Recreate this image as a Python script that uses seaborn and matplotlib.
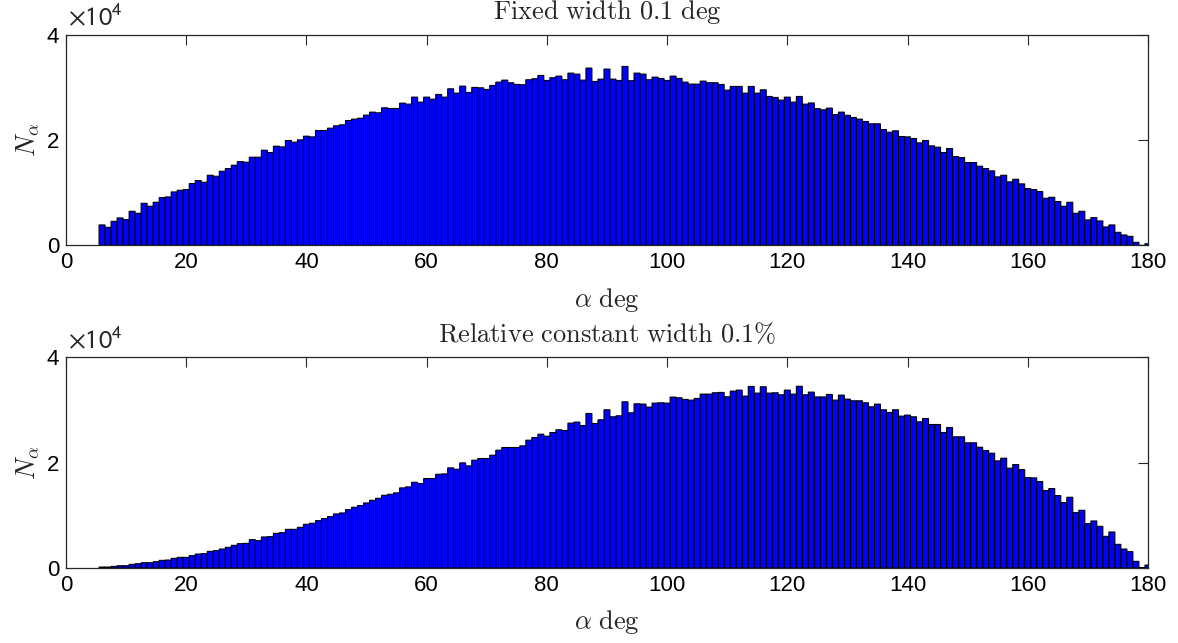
import numpy as np
import pandas as pd
import matplotlib
matplotlib.use('Agg')
import matplotlib.pyplot as plt
import seaborn as sns

# bin centres (deg) and counts
alpha_deg = list(range(6, 181))

counts_fixed = [
    3870, 3420, 4560, 5200, 4880, 6470, 6090, 7990, 7420, 8180,
    9070, 9190, 10140, 10460, 10590, 11730, 12300, 11980, 13310, 13120,
    14070, 14580, 15220, 15910, 15790, 16740, 16740, 18070, 17630, 18830,
    18700, 19910, 19590, 20030, 20730, 20600, 21810, 21810, 22250, 22700,
    22890, 23710, 23970, 24150, 24730, 25300, 25170, 26120, 25990, 25990,
    27010, 26820, 28150, 27200, 28150, 27770, 28660, 28150, 29730, 28910,
    30240, 29040, 29990, 29920, 29610, 30370, 31000, 31380, 30880, 30560,
    30500, 31450, 31640, 32270, 31320, 31830, 32140, 31450, 32710, 32520,
    31380, 33670, 31130, 31570, 33480, 31570, 31320, 33980, 31260, 32710,
    32520, 31450, 31950, 31700, 31320, 32140, 31700, 31000, 30620, 30620,
    31190, 30880, 30880, 30560, 29480, 30180, 30180, 28910, 30180, 28910,
    29540, 28280, 28090, 27580, 28150, 27200, 28280, 26820, 27040, 25960,
    25740, 26060, 24820, 25300, 24700, 24280, 23970, 23520, 23080, 23080,
    22000, 21490, 21750, 20670, 20600, 20290, 19460, 19910, 18890, 18640,
    17630, 18390, 16860, 16670, 15720, 15720, 15030, 14580, 14140, 13000,
    13310, 12050, 12550, 11670, 10780, 10590, 10210, 8940, 9130, 8310,
    7420, 8180, 6090, 6470, 4820, 5260, 4630, 3490, 3870, 2470,
    1970, 1710, 570, 0, 300,
]

counts_relative = [
    190, 190, 320, 440, 440, 700, 820, 1010, 1010, 1200,
    1460, 1520, 1840, 2030, 2030, 2350, 2660, 2730, 3170, 3300,
    3610, 3930, 4310, 4630, 4690, 5390, 5200, 5900, 5960, 6590,
    6720, 7350, 7350, 7730, 8310, 8500, 9000, 9380, 9760, 10270,
    10460, 11090, 11540, 11860, 12360, 12870, 13250, 13820, 14010, 14270,
    15220, 15410, 16290, 16040, 16990, 16990, 17810, 17880, 19020, 18770,
    19970, 19400, 20480, 20800, 20800, 21430, 22380, 22890, 22890, 22890,
    23200, 24280, 24790, 25420, 25040, 25740, 26250, 26120, 27520, 27710,
    27070, 29350, 27450, 28150, 30050, 28720, 28910, 31570, 29480, 31190,
    31130, 30560, 31320, 31380, 31320, 32460, 32330, 32020, 31890, 32210,
    33030, 33030, 33280, 33350, 32520, 33600, 33790, 32650, 34490, 33220,
    34420, 33220, 33280, 32900, 33790, 33030, 34520, 32900, 33410, 32490,
    32490, 32970, 31890, 32840, 32080, 31760, 31760, 31380, 30620, 31130,
    30050, 29540, 30050, 28850, 29040, 28720, 27770, 28400, 27260, 27260,
    25740, 26690, 24920, 24920, 23780, 23780, 22950, 22320, 21810, 20350,
    20860, 18960, 19650, 18700, 17180, 17120, 16420, 14710, 15090, 13760,
    12430, 13440, 10520, 10970, 8430, 8940, 7920, 6020, 6850, 4500,
    3610, 3110, 1270, 100, 570,
]

titles = [r'$\mathrm{Fixed\ width\ 0.1\ deg}$',
          r'$\mathrm{Relative\ constant\ width\ 0.1\%}$']
x_ticks = list(range(0, 181, 20))
y_ticks = [0, 20000, 40000]
y_tick_labels = ['0', '2', '4']

sns.set_style('white')
plt.rcParams['font.family'] = ['Liberation Sans', 'DejaVu Sans']
plt.rcParams['mathtext.fontset'] = 'cm'

fig = plt.figure(figsize=(11.78, 6.43), dpi=100)
ax_top = fig.add_axes([0.056, 0.6185, 0.9185, 0.3275])
ax_bot = fig.add_axes([0.056, 0.1166, 0.9185, 0.3276])

edge_col = '#262626'
for ax, counts, title in zip([ax_top, ax_bot], [counts_fixed, counts_relative], titles):
    df = pd.DataFrame({'alpha': alpha_deg, 'n': counts})
    sns.histplot(data=df, x='alpha', weights='n', binwidth=1, binrange=(5.5, 180.5),
                 color='#0000ff', alpha=1, edgecolor='black', linewidth=0.75, ax=ax)
    # keep the thin bar outlines evenly visible instead of pixel-snapped
    for p in ax.patches:
        p.set_snap(False)
    ax.set_xlim(0, 180)
    ax.set_ylim(0, 40000)
    ax.set_xticks(x_ticks)
    ax.set_yticks(y_ticks)
    ax.set_yticklabels(y_tick_labels)
    ax.tick_params(direction='in', length=7, width=0.8, colors=edge_col,
                   labelcolor='black', labelsize=16, top=True, right=True, pad=5)
    for sp in ax.spines.values():
        sp.set_visible(True)
        sp.set_color(edge_col)
        sp.set_linewidth(0.9)
    ax.set_xlabel(r'$\alpha\ \mathrm{deg}$', fontsize=19, labelpad=9)
    ax.set_ylabel(r'$N_\alpha$', fontsize=19, labelpad=4)
    ax.set_title(title, fontsize=19, pad=11)
    ax.text(0.002, 1.02, r'$\times 10^{4}$', transform=ax.transAxes,
            fontsize=19, math_fontfamily='stixsans', ha='left', va='bottom')

fig.savefig('out.png', dpi=100)
